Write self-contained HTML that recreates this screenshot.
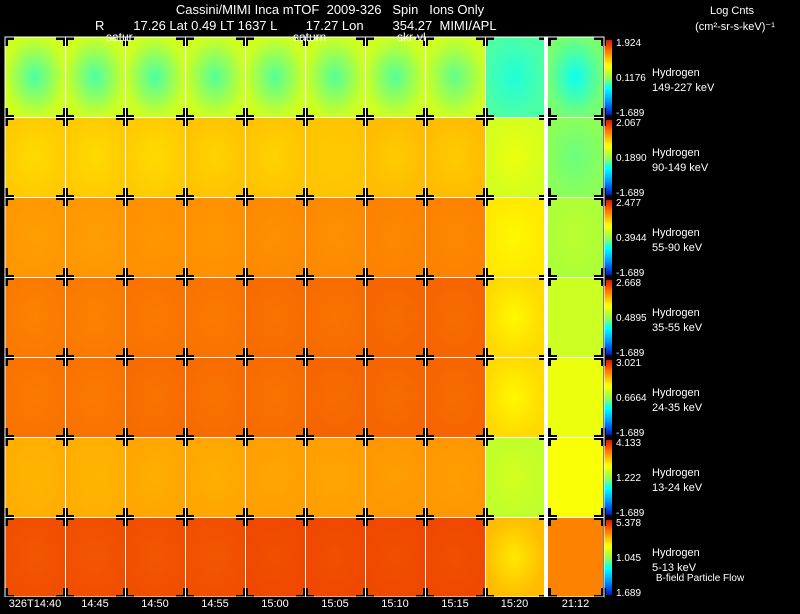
<!DOCTYPE html>
<html><head><meta charset="utf-8"><style>
body{margin:0;background:#000;width:800px;height:609px;overflow:hidden;font-family:"Liberation Sans",sans-serif}
svg text{fill:#fff;font-family:"Liberation Sans",sans-serif}
</style></head><body>
<svg id="c" width="800" height="609" xmlns="http://www.w3.org/2000/svg">
<defs>
<linearGradient id="cb" x1="0" y1="1" x2="0" y2="0">
<stop offset="0" stop-color="#0010c0"/><stop offset="0.2" stop-color="#00a0ff"/><stop offset="0.35" stop-color="#00ffff"/>
<stop offset="0.5" stop-color="#a0ff40"/><stop offset="0.65" stop-color="#ffff00"/><stop offset="0.8" stop-color="#ff9000"/><stop offset="1" stop-color="#e00000"/>
</linearGradient>
</defs>
<g id="cells"></g><g id="overlay"></g>
<text x="330" y="14" font-size="13" text-anchor="middle" xml:space="preserve">Cassini/MIMI Inca mTOF  2009-326   Spin   Ions Only</text>
<text x="95" y="30" font-size="13" xml:space="preserve">R        17.26 Lat 0.49 LT 1637 L        17.27 Lon        354.27  MIMI/APL</text>
<text x="106" y="41" font-size="12">satur</text>
<text x="293" y="41" font-size="12">saturn</text>
<text x="397" y="41" font-size="12">skr-vl</text>
<text x="732" y="14" font-size="11" text-anchor="middle">Log Cnts</text>
<text x="735" y="30" font-size="11" text-anchor="middle">(cm²-sr-s-keV)⁻¹</text>
<text x="700" y="581" font-size="10" text-anchor="middle">B-field Particle Flow</text>
</svg>
<script>
const times=["326T14:40","14:45","14:50","14:55","15:00","15:05","15:10","15:15","15:20","21:12"];
const species=["149-227 keV","90-149 keV","55-90 keV","35-55 keV","24-35 keV","13-24 keV","5-13 keV"];
const cbTop=["1.924","2.067","2.477","2.668","3.021","4.133","5.378"];
const cbMid=["0.1176","0.1890","0.3944","0.4895","0.6664","1.222","1.045"];
const cbBot=["-1.689","-1.689","-1.689","-1.689","-1.689","-1.689","1.689"];
// normalized color levels (0=blue,1=red): edge and center per row, per column
const edgeVals=[
[0.57,0.57,0.57,0.57,0.57,0.57,0.57,0.57,0.42,0.46],
[0.72,0.72,0.72,0.73,0.73,0.73,0.74,0.74,0.58,0.48],
[0.79,0.79,0.80,0.80,0.81,0.81,0.82,0.82,0.68,0.52],
[0.83,0.83,0.84,0.84,0.85,0.85,0.86,0.86,0.70,0.57],
[0.84,0.84,0.85,0.85,0.85,0.86,0.86,0.86,0.70,0.62],
[0.76,0.76,0.77,0.77,0.78,0.78,0.79,0.79,0.55,0.64],
[0.89,0.89,0.89,0.89,0.90,0.90,0.90,0.90,0.74,0.82]];
const centerVals=[
[0.42,0.42,0.42,0.43,0.43,0.43,0.43,0.44,0.38,0.36],
[0.70,0.70,0.70,0.71,0.71,0.72,0.72,0.72,0.62,0.45],
[0.78,0.78,0.79,0.79,0.80,0.80,0.81,0.81,0.66,0.54],
[0.82,0.82,0.83,0.83,0.84,0.84,0.85,0.85,0.66,0.57],
[0.83,0.83,0.84,0.84,0.84,0.85,0.85,0.85,0.66,0.62],
[0.75,0.75,0.76,0.76,0.77,0.77,0.78,0.78,0.58,0.64],
[0.88,0.88,0.88,0.88,0.89,0.89,0.89,0.89,0.68,0.82]];
const stops=[[0,[0,16,192]],[0.2,[0,160,255]],[0.35,[0,255,255]],[0.5,[160,255,64]],[0.65,[255,255,0]],[0.8,[255,144,0]],[1,[224,0,0]]];
function cmap(v){for(let i=1;i<stops.length;i++){if(v<=stops[i][0]){const a=stops[i-1],b=stops[i],t=(v-a[0])/(b[0]-a[0]);const c=a[1].map((x,k)=>Math.round(x+(b[1][k]-x)*t));return `rgb(${c})`;}}return 'rgb(224,0,0)';}
const NS="http://www.w3.org/2000/svg";
function el(t,a,p){const e=document.createElementNS(NS,t);for(const k in a)e.setAttribute(k,a[k]);p.appendChild(e);return e;}
const colX=[5,65,125,185,245,305,365,425,485,548];
const colW=[60,60,60,60,60,60,60,60,59,55];
const y0=37,rowH=80;
function xPos(c){return colX[c];}
function yPos(r){return y0+r*rowH;}
const cells=document.getElementById('cells'),ov=document.getElementById('overlay');
const defs=document.querySelector('defs');
for(let r=0;r<species.length;r++){
 for(let c=0;c<times.length;c++){
  const id='g'+r+'_'+c;
  const g=el('radialGradient',{id:id},defs);
  el('stop',{offset:'0','stop-color':cmap(centerVals[r][c])},g);
  el('stop',{offset:'1','stop-color':cmap(edgeVals[r][c])},g);
  const rc=el('rect',{x:xPos(c),y:yPos(r),width:colW[c],height:rowH,fill:`url(#${id})`},cells);
  
  
 }
 const cb=el('rect',{x:604,y:yPos(r)+1,width:8,height:rowH-2,fill:'url(#cb)'},ov);
 
 
 const t1=el('text',{x:616,y:yPos(r)+9,'font-size':'10'},ov);t1.textContent=cbTop[r];
 
 
 const t2=el('text',{x:616,y:yPos(r)+44,'font-size':'10'},ov);t2.textContent=cbMid[r];
 
 
 const t3=el('text',{x:616,y:yPos(r)+79,'font-size':'10'},ov);t3.textContent=cbBot[r];
 
 
 const l1=el('text',{x:652,y:yPos(r)+39,'font-size':'11'},ov);l1.textContent='Hydrogen';
 
 
 const l2=el('text',{x:652,y:yPos(r)+54,'font-size':'11'},ov);l2.textContent=species[r];
 
 
}
for(let r=0;r<=species.length;r++){for(let c=0;c<=times.length;c++){
 const x=c<times.length?xPos(c):603,y=yPos(r);
 el('rect',{x:x-9,y:y-2,width:18,height:5,fill:'#000'},ov);
 el('rect',{x:x-2,y:y-9,width:5,height:18,fill:'#000'},ov);
}}
for(let c=1;c<9;c++)el('rect',{x:xPos(c),y:y0,width:1,height:rowH*7,fill:'#fff'},ov);
el('rect',{x:544,y:y0,width:4,height:rowH*7,fill:'#fff'},ov);
for(let r=1;r<7;r++)el('rect',{x:5,y:yPos(r),width:599,height:1,fill:'#fff'},ov);
el('rect',{x:5,y:y0,width:599,height:rowH*7,fill:'none',stroke:'#fff','stroke-width':1},ov);
el('rect',{x:0,y:y0+rowH*7,width:604,height:12,fill:'#000'},ov);
el('rect',{x:0,y:y0,width:4,height:rowH*7,fill:'#000'},ov);
for(let c=0;c<times.length;c++){
 const t=el('text',{x:xPos(c)+colW[c]/2,y:607,'font-size':'11','text-anchor':'middle'},ov);t.textContent=times[c];
 
 
}
</script>
</body></html>
